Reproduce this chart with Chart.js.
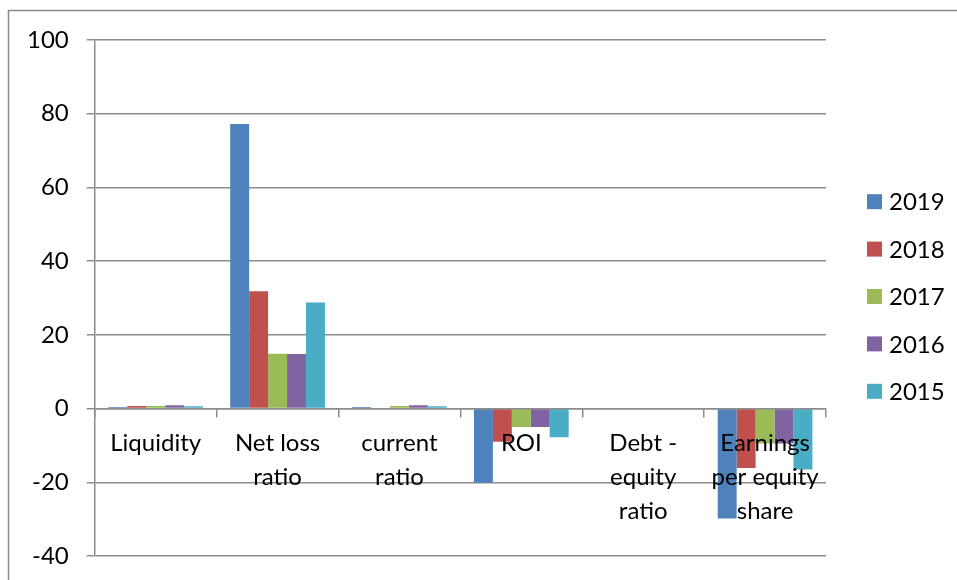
<!DOCTYPE html>
<html>
<head>
<meta charset="utf-8">
<script src="https://cdn.jsdelivr.net/npm/chart.js@4/dist/chart.umd.min.js"></script>
<style>
  html, body { margin: 0; padding: 0; background: #fff; }
  #wrap { width: 957px; height: 580px; position: relative; }
</style>
</head>
<body>
<div id="wrap"><canvas id="ratioChart" width="957" height="580"></canvas></div>
<script>
// ratio categories (multi-line labels as drawn under the zero line)
const categories = [
  'Liquidity',
  ['Net loss', 'ratio'],
  ['current', 'ratio'],
  'ROI',
  ['Debt -', 'equity', 'ratio'],
  ['Earnings', 'per equity', 'share']
];

const years = ['2019', '2018', '2017', '2016', '2015'];

const values2019 = [0.4, 77.2, 0.4, -20.1, 0.2, -29.8];
const values2018 = [0.7, 31.8, 0, -9.0, 0, -16.1];
const values2017 = [0.7, 14.9, 0.7, -5.0, 0, -9.5];
const values2016 = [0.9, 14.8, 0.9, -5.0, 0, -9.5];
const values2015 = [0.6, 28.8, 0.6, -7.8, 0, -16.5];

const yTicks = [-40, -20, 0, 20, 40, 60, 80, 100];

const colors = ['#4F81BD', '#C0504D', '#9BBB59', '#8064A2', '#4BACC6'];
const series = [values2019, values2018, values2017, values2016, values2015];

const axisGrey = '#8c8c8c';
const font = { family: 'Lato, "Open Sans", sans-serif', size: 24 };

// outer frame around the whole chart
const framePlugin = {
  id: 'frame',
  beforeDraw(chart) {
    const c = chart.ctx;
    c.save();
    c.fillStyle = '#fff';
    c.fillRect(0, 0, chart.width, chart.height);
    c.strokeStyle = '#8a8a8a';
    c.lineWidth = 1.5;
    c.strokeRect(8.5, 10.5, chart.width + 10, chart.height + 10);
    c.restore();
  }
};

// legend column to the right of the plot: square swatch + year
const sideLegend = {
  id: 'sideLegend',
  afterDraw(chart) {
    const c = chart.ctx;
    const area = chart.chartArea;
    const x = area.right + 41;
    const mid = (area.top + area.bottom) / 2 - 1.5;
    const step = 47.4;
    const n = chart.data.datasets.length;
    c.save();
    c.font = `${font.size}px ${font.family}`;
    c.textBaseline = 'middle';
    chart.data.datasets.forEach((ds, i) => {
      const y = mid + (i - (n - 1) / 2) * step;
      c.fillStyle = ds.backgroundColor;
      c.fillRect(x, y - 7.5, 15, 15);
      c.fillStyle = '#000';
      c.fillText(ds.label, x + 22, y + 1);
    });
    c.restore();
  }
};

const ctx = document.getElementById('ratioChart').getContext('2d');
new Chart(ctx, {
  type: 'bar',
  data: {
    labels: categories,
    datasets: years.map((y, i) => ({
      label: y,
      data: series[i],
      backgroundColor: colors[i],
      borderWidth: 0,
      categoryPercentage: 0.777,
      barPercentage: 1
    }))
  },
  options: {
    responsive: false,
    animation: false,
    layout: { padding: { top: 40, bottom: 24, left: 9, right: 131 } },
    plugins: {
      legend: { display: false },
      tooltip: { enabled: false }
    },
    scales: {
      y: {
        min: -40,
        max: 100,
        afterBuildTicks(scale) {
          scale.ticks = yTicks.map(v => ({ value: v }));
        },
        // plot edges are set by the layout padding, not by label overhang
        afterFit(scale) {
          scale.paddingTop = 0;
          scale.paddingBottom = 0;
        },
        grid: {
          color: axisGrey,
          lineWidth: 1.5,
          tickLength: 8
        },
        border: { color: axisGrey, width: 1.5 },
        ticks: { color: '#000', font: font, padding: 18 }
      },
      x: {
        position: { y: 0 },
        grid: {
          offset: true,
          drawOnChartArea: false,
          drawTicks: true,
          tickLength: 8,
          color: axisGrey,
          lineWidth: 1.5,
          z: 1
        },
        border: { color: axisGrey, width: 1.5, z: 1 },
        ticks: {
          color: '#000',
          font: { ...font, lineHeight: 34 / 24 },
          padding: 10,
          maxRotation: 0,
          autoSkip: false,
          z: 2
        }
      }
    }
  },
  plugins: [framePlugin, sideLegend]
});
</script>
</body>
</html>
